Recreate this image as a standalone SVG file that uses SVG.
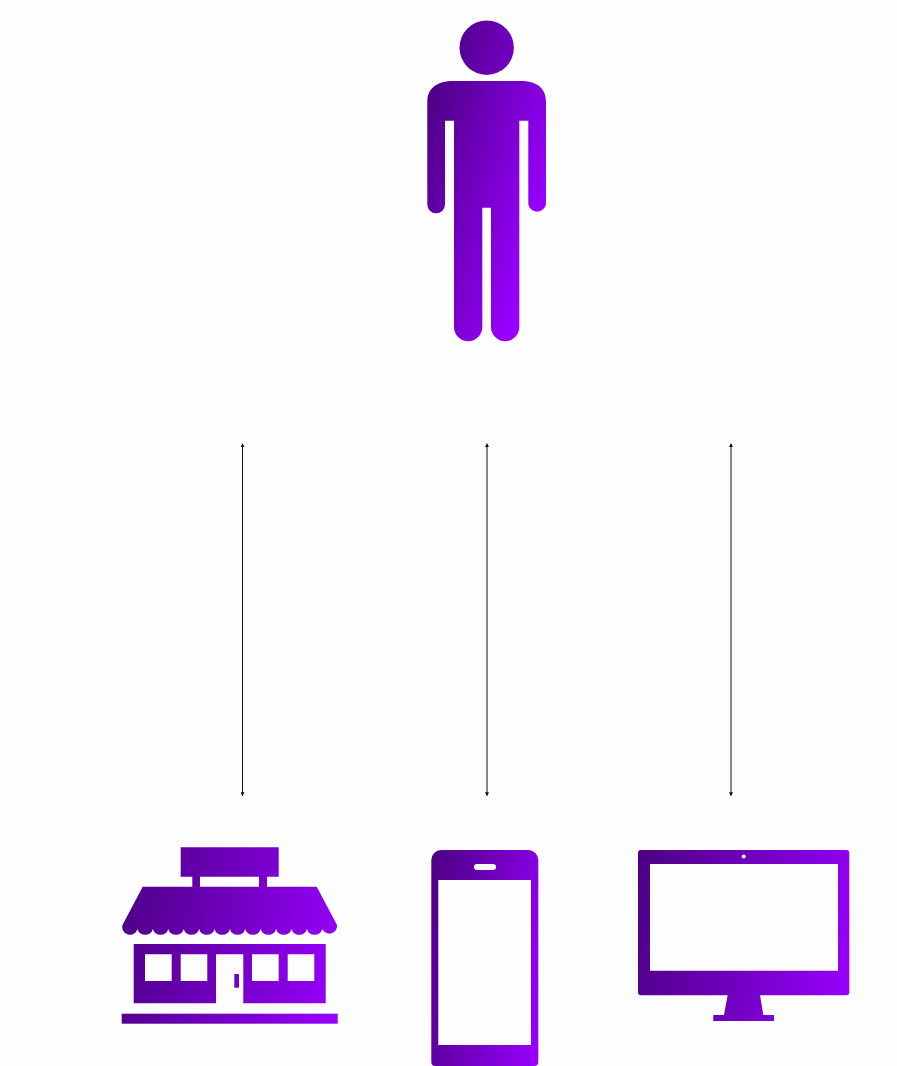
<svg xmlns="http://www.w3.org/2000/svg" width="897" height="1066" viewBox="0 0 897 1066">
<style>
.c{stroke:#111;stroke-width:1;fill:none;marker-start:url(#a);marker-end:url(#a)}
</style>
<defs>
<marker id="a" viewBox="0 0 6 6" refX="5" refY="3" markerUnits="userSpaceOnUse" markerWidth="4" markerHeight="4" orient="auto-start-reverse"><path d="M0 0L6 3L0 6z" fill="#111"/></marker>
<linearGradient id="gP" gradientUnits="userSpaceOnUse" x1="436.200" y1="48" x2="579.100" y2="87.600"><stop offset="0" stop-color="#4b0082"/><stop offset="1" stop-color="#9900ff"/></linearGradient>
<linearGradient id="gS" gradientUnits="userSpaceOnUse" x1="122" y1="847" x2="361" y2="887"><stop offset="0" stop-color="#4b0082"/><stop offset="1" stop-color="#9900ff"/></linearGradient>
<linearGradient id="gT" gradientUnits="userSpaceOnUse" x1="431" y1="850" x2="570" y2="873"><stop offset="0" stop-color="#4b0082"/><stop offset="1" stop-color="#9900ff"/></linearGradient>
<linearGradient id="gM" gradientUnits="userSpaceOnUse" x1="638" y1="850" x2="872.500" y2="889.500"><stop offset="0" stop-color="#4b0082"/><stop offset="1" stop-color="#9900ff"/></linearGradient>
</defs>
<rect width="897" height="1066" fill="#fdfdfd"/>
<g id="connectors">
<line class="c" x1="242.500" y1="443.800" x2="242.500" y2="795.500"/>
<line class="c" x1="487" y1="443.800" x2="487" y2="795.500"/>
<line class="c" x1="731" y1="443.800" x2="731" y2="795.500"/>
</g>
<g id="person" fill="url(#gP)">
<circle cx="486.700" cy="47.700" r="27.200"/>
<path d="M454 81H520C537 81 546 88 546 102V204.300a9 9 0 0 1-17.700 0V120.700H519.300V327a14.150 14.300 0 0 1-28.300 0V207.700H482.300V327a14.150 14.300 0 0 1-28.300 0V120.700H445V204.300a8.850 9 0 0 1-17.700 0V102C427.300 88 437 81 454 81Z"/>
</g>
<g id="store" fill="url(#gS)">
<path fill-rule="evenodd" d="M180.700 847.300H278.700V876.700H267V886.700H316.700L337 925A7.700 7.700 0 0 1 322.300 929A8 8 0 0 1 306.900 929A8 8 0 0 1 291.500 929A8 8 0 0 1 276.100 929A8 8 0 0 1 260.700 929A8 8 0 0 1 245.300 929A8 8 0 0 1 229.900 929A8 8 0 0 1 214.500 929A8 8 0 0 1 199.100 929A8 8 0 0 1 183.700 929A8 8 0 0 1 168.300 929A8 8 0 0 1 152.900 929A8 8 0 0 1 137.500 929A7.700 7.700 0 0 1 122.500 925L142.700 886.700H192.300V876.700H180.700ZM200 876.700V886.700H259V876.700Z"/>
<path fill-rule="evenodd" d="M133.700 944H325.700V1003.300H243.300V954.300H216V1003.300H133.700ZM145 954.300V981H171.700V954.300ZM180.700 954.300V981H207.300V954.300ZM252 954.300V981H278.700V954.300ZM287.700 954.300V981H314.300V954.300Z"/>
<rect x="234.300" y="974" width="4.700" height="13.700"/>
<rect x="121.700" y="1013.700" width="216" height="10"/>
</g>
<g id="phone">
<path fill="url(#gT)" fill-rule="evenodd" d="M441.300 850H528.300a10 10 0 0 1 10 10V1062a4 4 0 0 1-4 4H435.300a4 4 0 0 1-4-4V860a10 10 0 0 1 10-10ZM438.300 880V1045H531V880ZM477 864a3 3 0 0 0 0 6H493a3 3 0 0 0 0-6Z"/>
</g>
<g id="monitor" fill="url(#gM)">
<path fill-rule="evenodd" d="M641 850H846.300a3 3 0 0 1 3 3V992.300a3 3 0 0 1-3 3H641a3 3 0 0 1-3-3V853a3 3 0 0 1 3-3ZM650 864V970.700H838V864ZM743.700 854.500a2 2 0 1 0 .01 0Z"/>
<path d="M727.700 995H760L763.300 1015H774V1021H713.300V1015H724Z"/>
</g>
</svg>
